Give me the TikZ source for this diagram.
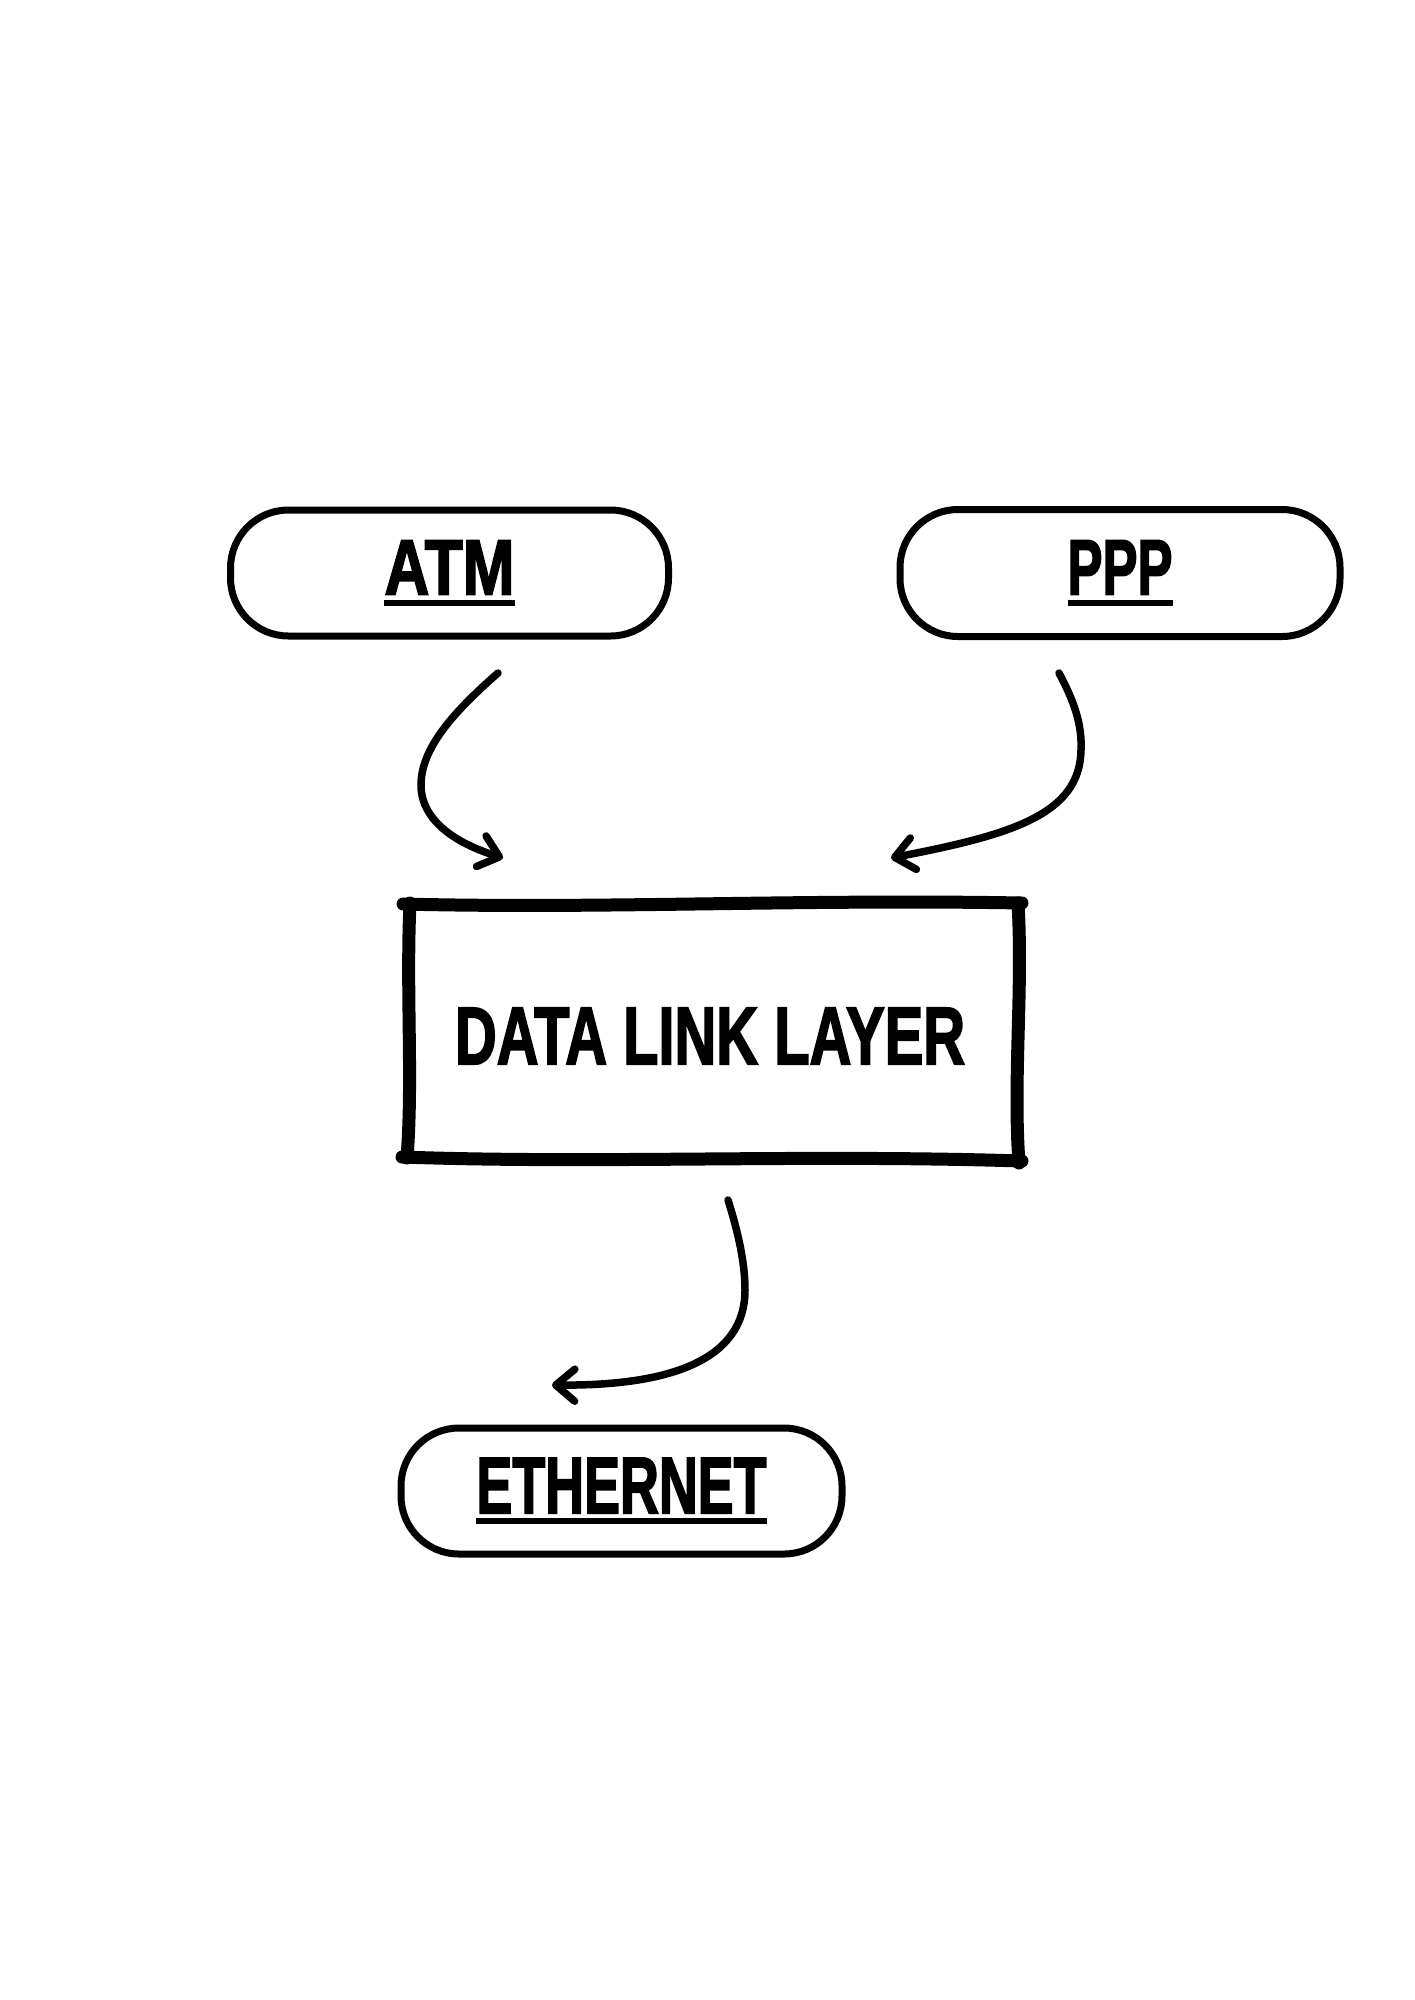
\documentclass[tikz,border=0pt]{standalone}
\usepackage{fontspec}
\usepackage{graphicx}
\setmainfont{Liberation Sans}
\newfontfamily\heavyfont[FakeBold=2.5]{Liberation Sans Bold}
\usetikzlibrary{arrows.meta}
\newcommand{\ulab}[3]{\vbox{\hbox{\resizebox{#1}{#2}{\heavyfont #3}}\kern5pt\hrule height 6pt}}
\tikzset{
  pill/.style={draw=black, line width=7pt, rounded corners=58pt, inner sep=0pt, fill=white},
  sketch/.style={draw=black, line width=13pt, line cap=round, line join=round},
  flow/.style={draw=black, line width=7.5pt, line cap=round, line join=round,
    -{Straight Barb[length=19pt,width=32pt,round]}},
}
\begin{document}
\begin{tikzpicture}[x=1pt,y=-1pt]
\fill[white] (0,0) rectangle (1414,2000);
\useasboundingbox (0,0) rectangle (1414,2000);

% rounded boxes
\node[pill, minimum width=438pt, minimum height=126pt] (atm) at (449.5,573) {\ulab{130pt}{54pt}{ATM}};
\node[pill, minimum width=440pt, minimum height=127pt] (ppp) at (1120,573) {\ulab{105pt}{54pt}{PPP}};
\node[pill, minimum width=441pt, minimum height=126pt] (eth) at (621.5,1491) {\ulab{290pt}{55pt}{ETHERNET}};

% hand-drawn rectangle
\draw[sketch] (403,904) .. controls (600,909) and (800,899) .. (1022,903);
\draw[sketch] (410,903) .. controls (406,990) and (413,1080) .. (407,1158);
\draw[sketch] (402,1157) .. controls (600,1164) and (800,1154) .. (1022,1161);
\draw[sketch] (1018,903) .. controls (1023,990) and (1013,1080) .. (1019,1163);
\node[inner sep=0pt] (dll) at (710,1036) {\resizebox{510pt}{56pt}{\heavyfont DATA LINK LAYER}};

% connectors
\coordinate (a1s) at (498,673);
\coordinate (a1e) at (503,858);
\coordinate (a2s) at (1059,673);
\coordinate (a2e) at (891,858);
\coordinate (a3s) at (728,1200);
\coordinate (a3e) at (552,1385);
\draw[flow] (a1s) .. controls (450,715) and (421,750) .. (421,785) .. controls (421,820) and (455,843) .. (a1e);
\draw[flow] (a2s) .. controls (1075,703) and (1082,725) .. (1081,750) .. controls (1080,815) and (1010,835) .. (a2e);
\draw[flow] (a3s) .. controls (738,1232) and (745,1262) .. (745,1290) .. controls (745,1360) and (670,1386) .. (a3e);
\end{tikzpicture}
\end{document}
